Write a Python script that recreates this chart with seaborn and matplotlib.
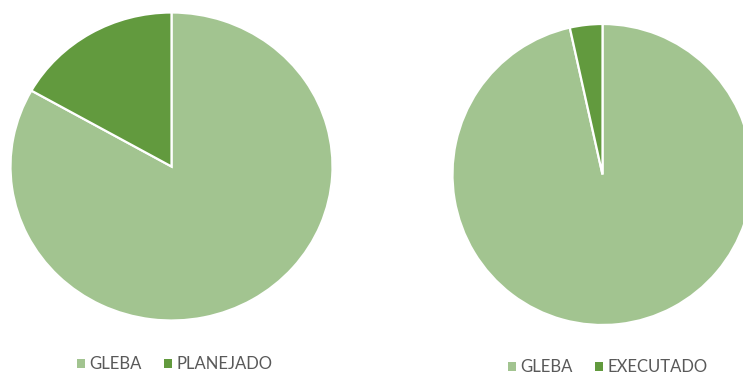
import matplotlib
matplotlib.use("Agg")
import matplotlib.pyplot as plt
from matplotlib.patches import Patch
import seaborn as sns

# Data
left_labels = ["GLEBA", "PLANEJADO"]
left_values = [83.2, 16.8]
right_labels = ["GLEBA", "EXECUTADO"]
right_values = [96.5, 3.5]

sns.set_theme(style="white")
plt.rcParams['font.family'] = ['Lato', 'DejaVu Sans']

colors = ["#A2C490", "#629A3E"]
text_color = "#595959"

W, H = 743, 374
fig = plt.figure(figsize=(W / 100, H / 100), dpi=100)
fig.patch.set_facecolor("white")

def px_axes(left, top, width, height):
    return fig.add_axes([left / W, 1 - (top + height) / H, width / W, height / H])

# Left pie (slightly elliptical)
ax1 = px_axes(10.5, 12.5, 322, 308)
ax1.pie(left_values, colors=colors, startangle=90, counterclock=False,
        wedgeprops=dict(edgecolor="white", linewidth=1.6), radius=1)
ax1.set_xlim(-1.0, 1.0)
ax1.set_ylim(-1.0, 1.0)
ax1.set_aspect("auto")
ax1.axis("off")

# Right pie
ax2 = px_axes(452.5, 24, 300, 301)
ax2.pie(right_values, colors=colors, startangle=90, counterclock=False,
        wedgeprops=dict(edgecolor="white", linewidth=1.6), radius=1)
ax2.set_xlim(-1.0, 1.0)
ax2.set_ylim(-1.0, 1.0)
ax2.set_aspect("auto")
ax2.axis("off")

def add_legend(labels, cx, cy):
    handles = [Patch(facecolor=c, edgecolor="none") for c in colors]
    leg = fig.legend(handles, labels, loc="center",
                     bbox_to_anchor=(cx / W, 1 - cy / H),
                     ncol=2, frameon=False, fontsize=12,
                     handlelength=0.45, handleheight=0.45,
                     handletextpad=0.3, columnspacing=1.35,
                     borderpad=0, borderaxespad=0)
    for t in leg.get_texts():
        t.set_color(text_color)
    return leg

add_legend(left_labels, 175, 364)
add_legend(right_labels, 608, 367)

fig.savefig("out.png", dpi=100, facecolor="white")
